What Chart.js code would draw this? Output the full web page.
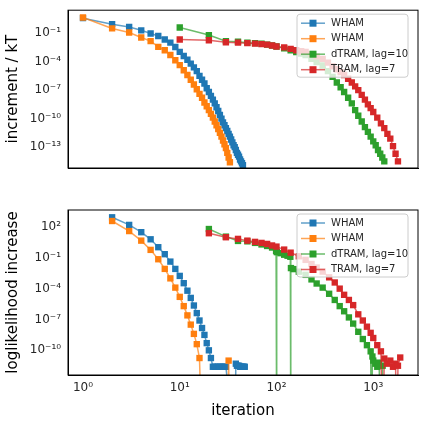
<!DOCTYPE html>
<html>
<head>
<meta charset="utf-8">
<script src="https://cdn.jsdelivr.net/npm/chart.js@4"></script>
<style>
body{margin:0;background:#fff;}
canvas{display:block;}
</style>
</head>
<body>
<div style="width:424px;height:185px"><canvas id="top"></canvas></div>
<div style="width:424px;height:239px"><canvas id="bottom"></canvas></div>
<script>
// values are log10 of the plotted quantity
const labels = ["WHAM", "WHAM", "dTRAM, lag=10", "TRAM, lag=7"];
const colors = ["#1f77b4", "#ff7f0e", "#2ca02c", "#d62728"];

// top: increment / kT
const whamBlueTopX = [1,2,3,4,5,6,7,8,9,10,11,12,13,14,15,16,17,18,19,20,21,22,23,24,25,26,27,28,29,30,31,32,33,34,35,36,37,38,39,40,41,42,43,44,45];
const whamBlueTop = [0.58,-0.05,-0.34,-0.7,-1.03,-1.3,-1.66,-2.0,-2.45,-2.97,-3.4,-3.8,-4.2,-4.6,-5.0,-5.5,-5.9,-6.3,-6.8,-7.2,-7.6,-8.0,-8.4,-8.8,-9.2,-9.6,-10.0,-10.4,-10.7,-11.0,-11.3,-11.6,-11.9,-12.2,-12.5,-12.8,-13.0,-13.3,-13.6,-13.8,-14.0,-14.3,-14.5,-14.7,-14.9];
const whamOrangeTopX = [1,2,3,4,5,6,7,8,9,10,11,12,13,14,15,16,17,18,19,20,21,22,23,24,25,26,27,28,29,30,31,32,33];
const whamOrangeTop = [0.65,-0.5,-0.93,-1.45,-1.84,-2.44,-2.8,-3.3,-3.85,-4.37,-4.9,-5.4,-5.9,-6.4,-6.9,-7.4,-7.8,-8.3,-8.7,-9.1,-9.5,-9.9,-10.3,-10.7,-11.1,-11.5,-11.9,-12.3,-12.7,-13.1,-13.6,-14.1,-14.6];
const dtramTopX = [10,20,30,40,50,60,70,80,90,100,120,140,160,180,200,230,260,300,340,380,420,460,500,550,600,650,700,760,820,880,940,1000,1060,1120,1180,1240,1300];
const dtramTop = [-0.4,-1.2,-1.84,-1.9,-2.0,-2.05,-2.1,-2.2,-2.3,-2.4,-2.6,-2.8,-3.0,-3.15,-3.3,-3.7,-4.05,-4.4,-5.0,-5.6,-6.2,-6.7,-7.2,-7.8,-8.4,-9.1,-9.7,-10.3,-10.9,-11.4,-11.9,-12.4,-12.8,-13.3,-13.7,-14.1,-14.5];
const tramTopX = [10,20,30,40,50,60,70,80,90,100,120,140,160,180,200,230,260,300,340,380,420,460,500,550,600,650,700,760,820,880,940,1000,1100,1200,1300,1400,1500,1600,1700,1800];
const tramTop = [-1.66,-1.75,-1.95,-2.0,-2.05,-2.1,-2.15,-2.2,-2.3,-2.4,-2.5,-2.65,-2.8,-2.9,-2.97,-3.2,-3.45,-3.7,-4.1,-4.5,-4.8,-5.1,-5.4,-5.8,-6.2,-6.6,-7.0,-7.5,-8.0,-8.5,-8.9,-9.3,-9.9,-10.5,-11.0,-11.6,-12.1,-12.9,-13.7,-14.5];

// bottom: loglikelihood increase (-20 = zero, drops below the axis)
const whamBlueBotX = [2,3,4,5,6,7,8,9,10,11,12,13,14,15,16,17,18,19,20,21,22,23,24,25,26,27,28,29,30,37,38,39,40,41,42,43,44,45,46,47];
const whamBlueBot = [2.94,2.2,1.49,0.8,0.03,-0.65,-1.37,-2.08,-2.76,-3.47,-4.2,-4.9,-5.64,-6.38,-7.1,-7.83,-8.5,-9.3,-10,-10.75,-11.6,-11.6,-11.6,-11.6,-11.6,-11.6,-11.6,-11.6,-11.6,-20,-11.3,-11.5,-11.5,-11.5,-11.6,-11.6,-11.6,-11.6,-11.6,-11.6];
const whamOrangeBotX = [2,3,4,5,6,7,8,9,10,11,12,13,14,15,16,17,31,32,33];
const whamOrangeBot = [2.58,1.6,0.67,-0.23,-1.14,-2.08,-3.0,-3.9,-4.8,-5.7,-6.6,-7.5,-8.4,-9.4,-10.75,-20,-20,-11,-20];
const dtramBotX = [20,30,40,50,60,70,80,90,99,100,101,110,120,130,139,140,141,150,170,200,230,260,300,350,400,450,500,560,620,700,780,860,940,960,980,1000,1050,1100,1150,1200,1250];
const dtramBot = [1.8,1.06,0.64,0.6,0.45,0.3,0.15,0,-0.35,-20,-0.45,-0.55,-0.7,-0.8,-0.9,-20,-2.0,-2.1,-2.35,-2.66,-3.1,-3.5,-3.9,-4.5,-5.1,-5.7,-6.2,-6.8,-7.4,-8.2,-8.9,-9.5,-10.1,-20,-10.6,-11,-11.3,-11.6,-11.2,-20,-11.5];
const tramBotX = [20,30,40,50,60,70,80,90,100,120,140,170,200,230,260,300,350,400,450,500,560,620,700,780,860,940,1000,1100,1200,1250,1300,1400,1500,1600,1700,1750,1800,1900];
const tramBot = [1.39,1.0,0.84,0.67,0.55,0.45,0.35,0.2,0.09,-0.2,-0.5,-0.85,-1.2,-1.6,-1.95,-2.34,-2.9,-3.4,-4.0,-4.6,-5.1,-5.6,-6.5,-7.1,-7.7,-8.3,-8.8,-9.5,-10.1,-20,-10.8,-11.3,-11.0,-11.6,-11.3,-20,-11.5,-10.7];

const topYTicks = [-1,-4,-7,-10,-13];
const botYTicks = [2,-1,-4,-7,-10];

const sup = n => String(n).split("").map(c => c === "-" ? "⁻" : "⁰¹²³⁴⁵⁶⁷⁸⁹"[+c]).join("");

function pts(xs, ys){
    return xs.map((x,i)=>({x:x, y:Math.pow(10, ys[i])}));
}

function makeSet(i, xs, ys){
    return {
        label: labels[i],
        data: pts(xs, ys),
        showLine: true,
        borderColor: colors[i] + "b3",
        backgroundColor: colors[i],
        pointBorderColor: colors[i],
        borderWidth: 1.5,
        pointStyle: "rect",
        pointRadius: 4.5,
        pointBorderWidth: 0,
        pointHoverRadius: 4.5,
        order: 3 - i
    };
}

const framePlugin = {
    id: "frame",
    afterDraw(chart){
        const a = chart.chartArea, c = chart.ctx;
        c.save();
        c.strokeStyle = "#000";
        c.lineWidth = 1;
        c.strokeRect(a.left, a.top, a.right - a.left, a.bottom - a.top);
        // legend
        const w = 111, h = 63, x0 = a.right - 10 - w, y0 = a.top + 4;
        c.fillStyle = "rgba(255,255,255,0.8)";
        c.strokeStyle = "#cccccc";
        c.beginPath();
        c.roundRect(x0, y0, w, h, 3);
        c.fill();
        c.stroke();
        c.font = "10px 'DejaVu Sans'";
        c.textBaseline = "middle";
        labels.forEach((t, i) => {
            const y = y0 + 9 + i * 15.5;
            c.strokeStyle = colors[i] + "b3";
            c.lineWidth = 1.5;
            c.beginPath(); c.moveTo(x0 + 4, y); c.lineTo(x0 + 28, y); c.stroke();
            c.fillStyle = colors[i];
            c.fillRect(x0 + 12.5, y - 3.5, 7, 7);
            c.fillStyle = "#262626";
            c.fillText(t, x0 + 34, y);
        });
        c.restore();
    }
};

const xTickVals = [];
for(let d = -1; d <= 3; d++){
    for(let m = 1; m <= 9; m++){
        const v = m * Math.pow(10, d);
        if(v >= 0.7 && v <= 2900) xTickVals.push(v);
    }
}

function isPow(v){
    const l = Math.log10(v);
    return Math.abs(l - Math.round(l)) < 1e-6;
}

function makeChart(id, datasets, yMin, yMax, yTicks, yTitle, showX, padTop, xHeight){
    return new Chart(document.getElementById(id), {
        type: "scatter",
        data: {datasets: datasets},
        options: {
            responsive: true,
            maintainAspectRatio: false,
            animation: false,
            layout: {padding: {top: padTop, right: 6, left: 0, bottom: 0}},
            plugins: {legend: {display: false}, tooltip: {enabled: false}},
            scales: {
                x: {
                    type: "logarithmic",
                    min: 0.7, max: 2900,
                    grid: {display: false, drawTicks: true, tickLength: 3, tickColor: "#000"},
                    border: {color: "#000"},
                    afterBuildTicks: s => { s.ticks = xTickVals.map(v => ({value: v})); },
                    afterFit: s => { s.height = xHeight; },
                    ticks: {
                        autoSkip: false, maxRotation: 0, color: "#262626",
                        font: {family: "DejaVu Sans", size: 12},
                        callback: v => (showX && isPow(v)) ? "10" + sup(Math.round(Math.log10(v))) : ""
                    },
                    title: {display: showX, text: "iteration", color: "#000",
                        font: {family: "DejaVu Sans", size: 15}, padding: {top: 0}}
                },
                y: {
                    type: "logarithmic",
                    min: Math.pow(10, yMin), max: Math.pow(10, yMax),
                    grid: {display: false, drawTicks: true, tickLength: 4, tickColor: "#000"},
                    border: {color: "#000"},
                    afterBuildTicks: s => { s.ticks = yTicks.map(e => ({value: Math.pow(10, e)})); },
                    afterFit: s => { s.width = 68; },
                    ticks: {
                        autoSkip: false, color: "#262626",
                        font: {family: "DejaVu Sans", size: 12},
                        callback: v => "10" + sup(Math.round(Math.log10(v)))
                    },
                    title: {display: true, text: yTitle, color: "#000",
                        font: {family: "DejaVu Sans", size: 15}, padding: {bottom: 2}}
                }
            }
        },
        plugins: [framePlugin]
    });
}

makeChart("top", [
    makeSet(0, whamBlueTopX, whamBlueTop),
    makeSet(1, whamOrangeTopX, whamOrangeTop),
    makeSet(2, dtramTopX, dtramTop),
    makeSet(3, tramTopX, tramTop)
], -15.2, 1.42, topYTicks, "increment / kT", false, 10, 17);

makeChart("bottom", [
    makeSet(0, whamBlueBotX, whamBlueBot),
    makeSet(1, whamOrangeBotX, whamOrangeBot),
    makeSet(2, dtramBotX, dtramBot),
    makeSet(3, tramBotX, tramBot)
], -12.4, 3.65, botYTicks, "loglikelihood increase", true, 25, 49);
</script>
</body>
</html>
